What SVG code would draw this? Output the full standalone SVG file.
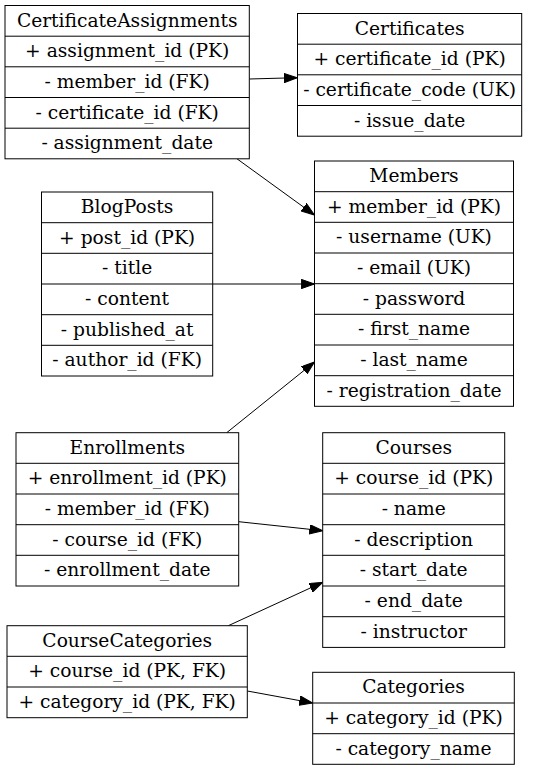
<svg xmlns="http://www.w3.org/2000/svg" width="536" height="771" viewBox="0 0 536 771">
<style>
.box{fill:#fff;stroke:#000;stroke-width:1}
.sep{stroke:#000;stroke-width:1}
text{font-family:"DejaVu Serif","Liberation Serif",serif;font-size:18.67px;fill:#000;text-anchor:middle}
.edge{stroke:#000;stroke-width:1;fill:none;marker-end:url(#arrow)}
</style>
<defs>
<marker id="arrow" markerUnits="userSpaceOnUse" markerWidth="14" markerHeight="10" refX="13.3" refY="4.67" orient="auto">
<path d="M0,0 L13.3,4.67 L0,9.33 z" fill="#000" stroke="#000" stroke-width="1"/>
</marker>
</defs>
<rect width="536" height="771" fill="#fff"/>
<g id="connectors">
<line class="edge" x1="249.3" y1="79" x2="297.3" y2="77.7"/>
<line class="edge" x1="237" y1="158.8" x2="314.5" y2="215"/>
<line class="edge" x1="212.7" y1="284" x2="314.5" y2="284"/>
<line class="edge" x1="226.7" y1="432.7" x2="314.5" y2="362"/>
<line class="edge" x1="238.7" y1="521.7" x2="322.7" y2="530.7"/>
<line class="edge" x1="228.3" y1="625.7" x2="322.7" y2="582.3"/>
<line class="edge" x1="247.3" y1="691" x2="312.7" y2="703"/>
</g>
<g id="CertificateAssignments">
<rect class="box" x="5" y="5.5" width="244.3" height="153.3"/>
<line class="sep" x1="5" y1="36.2" x2="249.3" y2="36.2"/>
<line class="sep" x1="5" y1="66.8" x2="249.3" y2="66.8"/>
<line class="sep" x1="5" y1="97.5" x2="249.3" y2="97.5"/>
<line class="sep" x1="5" y1="128.2" x2="249.3" y2="128.2"/>
<text x="127.2" y="26.5">CertificateAssignments</text>
<text x="127.2" y="57.2">+ assignment_id (PK)</text>
<text x="127.2" y="87.8">- member_id (FK)</text>
<text x="127.2" y="118.5">- certificate_id (FK)</text>
<text x="127.2" y="149.2">- assignment_date</text>
</g>
<g id="Certificates">
<rect class="box" x="297.5" y="13.5" width="224.2" height="122.7"/>
<line class="sep" x1="297.5" y1="44.2" x2="521.7" y2="44.2"/>
<line class="sep" x1="297.5" y1="74.8" x2="521.7" y2="74.8"/>
<line class="sep" x1="297.5" y1="105.5" x2="521.7" y2="105.5"/>
<text x="409.6" y="34.5">Certificates</text>
<text x="409.6" y="65.2">+ certificate_id (PK)</text>
<text x="409.6" y="95.8">- certificate_code (UK)</text>
<text x="409.6" y="126.5">- issue_date</text>
</g>
<g id="Members">
<rect class="box" x="314.5" y="161" width="199" height="245.3"/>
<line class="sep" x1="314.5" y1="191.7" x2="513.5" y2="191.7"/>
<line class="sep" x1="314.5" y1="222.3" x2="513.5" y2="222.3"/>
<line class="sep" x1="314.5" y1="253" x2="513.5" y2="253"/>
<line class="sep" x1="314.5" y1="283.7" x2="513.5" y2="283.7"/>
<line class="sep" x1="314.5" y1="314.3" x2="513.5" y2="314.3"/>
<line class="sep" x1="314.5" y1="345" x2="513.5" y2="345"/>
<line class="sep" x1="314.5" y1="375.7" x2="513.5" y2="375.7"/>
<text x="414" y="182">Members</text>
<text x="414" y="212.7">+ member_id (PK)</text>
<text x="414" y="243.3">- username (UK)</text>
<text x="414" y="274">- email (UK)</text>
<text x="414" y="304.7">- password</text>
<text x="414" y="335.3">- first_name</text>
<text x="414" y="366">- last_name</text>
<text x="414" y="396.7">- registration_date</text>
</g>
<g id="BlogPosts">
<rect class="box" x="41.5" y="192" width="171.2" height="184"/>
<line class="sep" x1="41.5" y1="222.7" x2="212.7" y2="222.7"/>
<line class="sep" x1="41.5" y1="253.3" x2="212.7" y2="253.3"/>
<line class="sep" x1="41.5" y1="284" x2="212.7" y2="284"/>
<line class="sep" x1="41.5" y1="314.7" x2="212.7" y2="314.7"/>
<line class="sep" x1="41.5" y1="345.3" x2="212.7" y2="345.3"/>
<text x="127.1" y="213">BlogPosts</text>
<text x="127.1" y="243.7">+ post_id (PK)</text>
<text x="127.1" y="274.3">- title</text>
<text x="127.1" y="305">- content</text>
<text x="127.1" y="335.7">- published_at</text>
<text x="127.1" y="366.3">- author_id (FK)</text>
</g>
<g id="Enrollments">
<rect class="box" x="16" y="432.7" width="222.7" height="153.3"/>
<line class="sep" x1="16" y1="463.3" x2="238.7" y2="463.3"/>
<line class="sep" x1="16" y1="494" x2="238.7" y2="494"/>
<line class="sep" x1="16" y1="524.7" x2="238.7" y2="524.7"/>
<line class="sep" x1="16" y1="555.3" x2="238.7" y2="555.3"/>
<text x="127.3" y="453.7">Enrollments</text>
<text x="127.3" y="484.3">+ enrollment_id (PK)</text>
<text x="127.3" y="515">- member_id (FK)</text>
<text x="127.3" y="545.7">- course_id (FK)</text>
<text x="127.3" y="576.3">- enrollment_date</text>
</g>
<g id="Courses">
<rect class="box" x="322.7" y="432.7" width="182" height="214.7"/>
<line class="sep" x1="322.7" y1="463.3" x2="504.7" y2="463.3"/>
<line class="sep" x1="322.7" y1="494" x2="504.7" y2="494"/>
<line class="sep" x1="322.7" y1="524.7" x2="504.7" y2="524.7"/>
<line class="sep" x1="322.7" y1="555.3" x2="504.7" y2="555.3"/>
<line class="sep" x1="322.7" y1="586" x2="504.7" y2="586"/>
<line class="sep" x1="322.7" y1="616.7" x2="504.7" y2="616.7"/>
<text x="413.7" y="453.7">Courses</text>
<text x="413.7" y="484.3">+ course_id (PK)</text>
<text x="413.7" y="515">- name</text>
<text x="413.7" y="545.7">- description</text>
<text x="413.7" y="576.3">- start_date</text>
<text x="413.7" y="607">- end_date</text>
<text x="413.7" y="637.7">- instructor</text>
</g>
<g id="CourseCategories">
<rect class="box" x="7" y="625.7" width="240.3" height="92"/>
<line class="sep" x1="7" y1="656.3" x2="247.3" y2="656.3"/>
<line class="sep" x1="7" y1="687" x2="247.3" y2="687"/>
<text x="127.2" y="646.7">CourseCategories</text>
<text x="127.2" y="677.3">+ course_id (PK, FK)</text>
<text x="127.2" y="708">+ category_id (PK, FK)</text>
</g>
<g id="Categories">
<rect class="box" x="312.7" y="672.3" width="201.6" height="92"/>
<line class="sep" x1="312.7" y1="703" x2="514.3" y2="703"/>
<line class="sep" x1="312.7" y1="733.7" x2="514.3" y2="733.7"/>
<text x="413.5" y="693.3">Categories</text>
<text x="413.5" y="724">+ category_id (PK)</text>
<text x="413.5" y="754.7">- category_name</text>
</g>
</svg>
